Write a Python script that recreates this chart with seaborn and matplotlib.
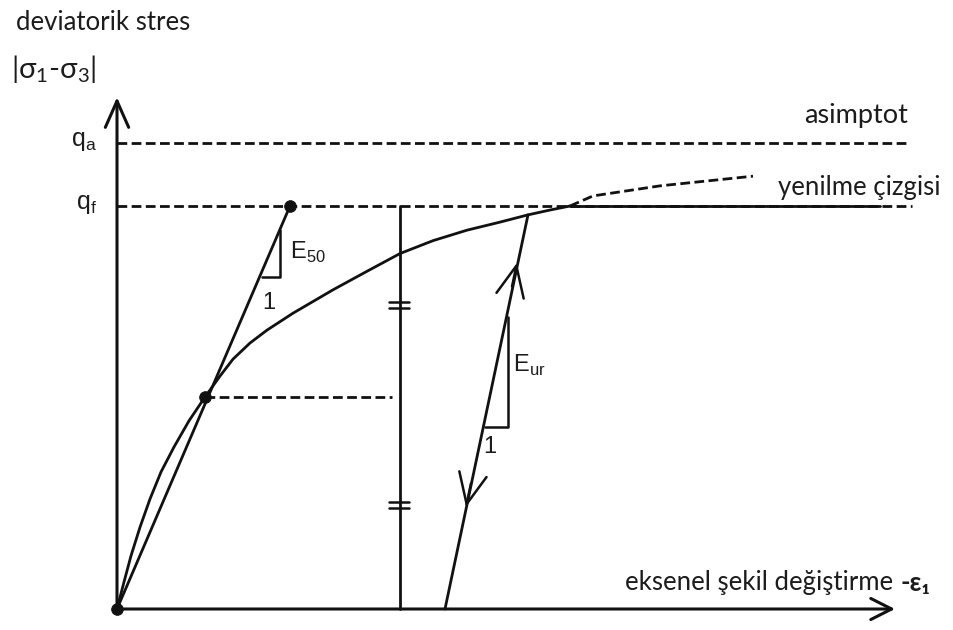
import matplotlib
matplotlib.use("Agg")
import matplotlib.pyplot as plt
import pandas as pd
import seaborn as sns

# Hyperbolic stress-strain relation (strain units arbitrary, stress normalised by q_f)
strain = [0.00, 0.07, 0.14, 0.23, 0.33, 0.44, 0.57, 0.72, 0.88, 1.03, 1.16, 1.33,
          1.50, 1.76, 2.16, 2.50, 2.83, 3.16, 3.50, 3.83, 4.11, 4.33, 4.53]
stress = [0.000, 0.067, 0.132, 0.203, 0.273, 0.340, 0.402, 0.467, 0.526, 0.578,
          0.620, 0.660, 0.692, 0.734, 0.792, 0.838, 0.882, 0.914, 0.940, 0.960,
          0.978, 0.990, 1.000]

# continuation of the hyperbola towards the asymptote
asym_strain = [4.53, 4.76, 5.43, 6.36]
asym_stress = [1.000, 1.025, 1.050, 1.074]

q_f = 1.0
q_a = 1.156
failure_end = 7.63
dash_end_a = 7.93
dash_end_f = 7.95

half_point = (0.88, 0.526)
e50_point = (1.73, 1.0)
reference_strain = 2.83
half_dash_end = 2.75

unload_strain = [3.28, 4.11]
unload_stress = [0.0, 0.978]

LW = 2.0
DASH = (0, (3.5, 1.6))
INK = "#111111"
TXT = "#1c1c1c"

sns.set_style("white")
plt.rcParams["font.family"] = ["Lato", "DejaVu Sans"]
plt.rcParams["mathtext.fontset"] = "custom"
plt.rcParams["mathtext.rm"] = "Lato"

fig = plt.figure(figsize=(9.54, 6.30), dpi=100)
ax = fig.add_axes([0, 0, 1, 1])
ax.set_xlim(-1.17, 8.37)
ax.set_ylim(-21 / 403, 609 / 403)
ax.axis("off")


def seg(xs, ys, **kw):
    df = pd.DataFrame({"x": xs, "y": ys})
    sns.lineplot(data=df, x="x", y="y", sort=False, estimator=None, ax=ax,
                 color=INK, lw=kw.pop("lw", LW), **kw)


# axes with open arrow heads
ax.annotate("", xy=(0, 1.270), xytext=(0, 0),
            arrowprops=dict(arrowstyle="->,head_length=0.95,head_width=0.42",
                            lw=2.2, color=INK, shrinkA=0, shrinkB=0, mutation_scale=20))
ax.annotate("", xy=(7.78, 0), xytext=(0, 0),
            arrowprops=dict(arrowstyle="->,head_length=0.75,head_width=0.38",
                            lw=2.2, color=INK, shrinkA=0, shrinkB=0, mutation_scale=20))

# asymptote and failure level
seg([0, dash_end_a], [q_a, q_a], linestyle=DASH)
seg([0, dash_end_f], [q_f, q_f], linestyle=DASH)

# stress-strain curve, failure line and hyperbola beyond failure
seg(strain, stress)
seg([strain[-1], failure_end], [q_f, q_f])
seg(asym_strain, asym_stress, linestyle=DASH)

# secant modulus E50
seg([0, e50_point[0]], [0, e50_point[1]])
seg([1.63, 1.63, 1.45], [0.940, 0.824, 0.824], lw=1.8)
seg([half_point[0], half_dash_end], [half_point[1], half_point[1]], linestyle=DASH)

# reference vertical with equality marks
seg([reference_strain, reference_strain], [0, q_f])
for yc in (0.755, 0.258):
    for dy in (-0.0075, 0.0075):
        seg([reference_strain - 0.11, reference_strain + 0.09], [yc + dy, yc + dy], lw=1.8)

# unloading / reloading path
seg(unload_strain, unload_stress)
seg([3.68, 3.91, 3.91], [0.452, 0.452, 0.725], lw=1.8)
dx = unload_strain[1] - unload_strain[0]
dy = unload_stress[1] - unload_stress[0]
for tip, sgn in (((4.00, 0.859), 1), ((3.49, 0.253), -1)):
    base = (tip[0] - sgn * dx * 0.06, tip[1] - sgn * dy * 0.06)
    ax.annotate("", xy=tip, xytext=base,
                arrowprops=dict(arrowstyle="->,head_length=1.1,head_width=0.5",
                                lw=1.8, color=INK, shrinkA=0, shrinkB=0, mutation_scale=20))

# points
pts = pd.DataFrame({"x": [0, half_point[0], e50_point[0]],
                    "y": [0, half_point[1], e50_point[1]]})
sns.scatterplot(data=pts, x="x", y="y", ax=ax, color=INK, s=70, edgecolor=INK,
                zorder=5, legend=False)

# labels
ax.text(-1.01, 1.455, "deviatorik stres", fontsize=18.5, color=TXT, va="center", ha="left")
ax.text(-1.06, 1.340, "|σ$_\\mathregular{1}$-σ$_\\mathregular{3}$|", fontsize=21, color=TXT,
        va="center", ha="left")
ax.text(-0.20, q_a + 0.005, "q$_\\mathregular{a}$", fontsize=18, color=TXT, va="center",
        ha="right", family="Liberation Sans")
ax.text(-0.20, q_f + 0.005, "q$_\\mathregular{f}$", fontsize=18, color=TXT, va="center",
        ha="right", family="Liberation Sans")
ax.text(7.91, 1.225, "asimptot", fontsize=19.5, color=TXT, va="center", ha="right")
ax.text(8.24, 1.047, "yenilme çizgisi", fontsize=18.5, color=TXT, va="center", ha="right")
eps = ax.text(8.13, 0.065, "-ε₁", fontsize=18.5, color=TXT, va="center", ha="right",
              fontweight="bold")
ax.annotate("eksenel şekil değiştirme ", xy=(0, 0.5), xycoords=eps, fontsize=18.5,
            color=TXT, va="center", ha="right")
ax.text(1.73, 0.886, "E$_\\mathregular{50}$", fontsize=17, color=TXT, va="center", ha="left",
        family="Liberation Sans")
ax.text(1.52, 0.759, "1", fontsize=17, color=TXT, va="center", ha="center",
        family="Liberation Sans")
ax.text(3.96, 0.605, "E$_\\mathregular{ur}$", fontsize=17, color=TXT, va="center", ha="left",
        family="Liberation Sans")
ax.text(3.73, 0.402, "1", fontsize=17, color=TXT, va="center", ha="center",
        family="Liberation Sans")

fig.savefig("out.png", dpi=100, facecolor="white")
